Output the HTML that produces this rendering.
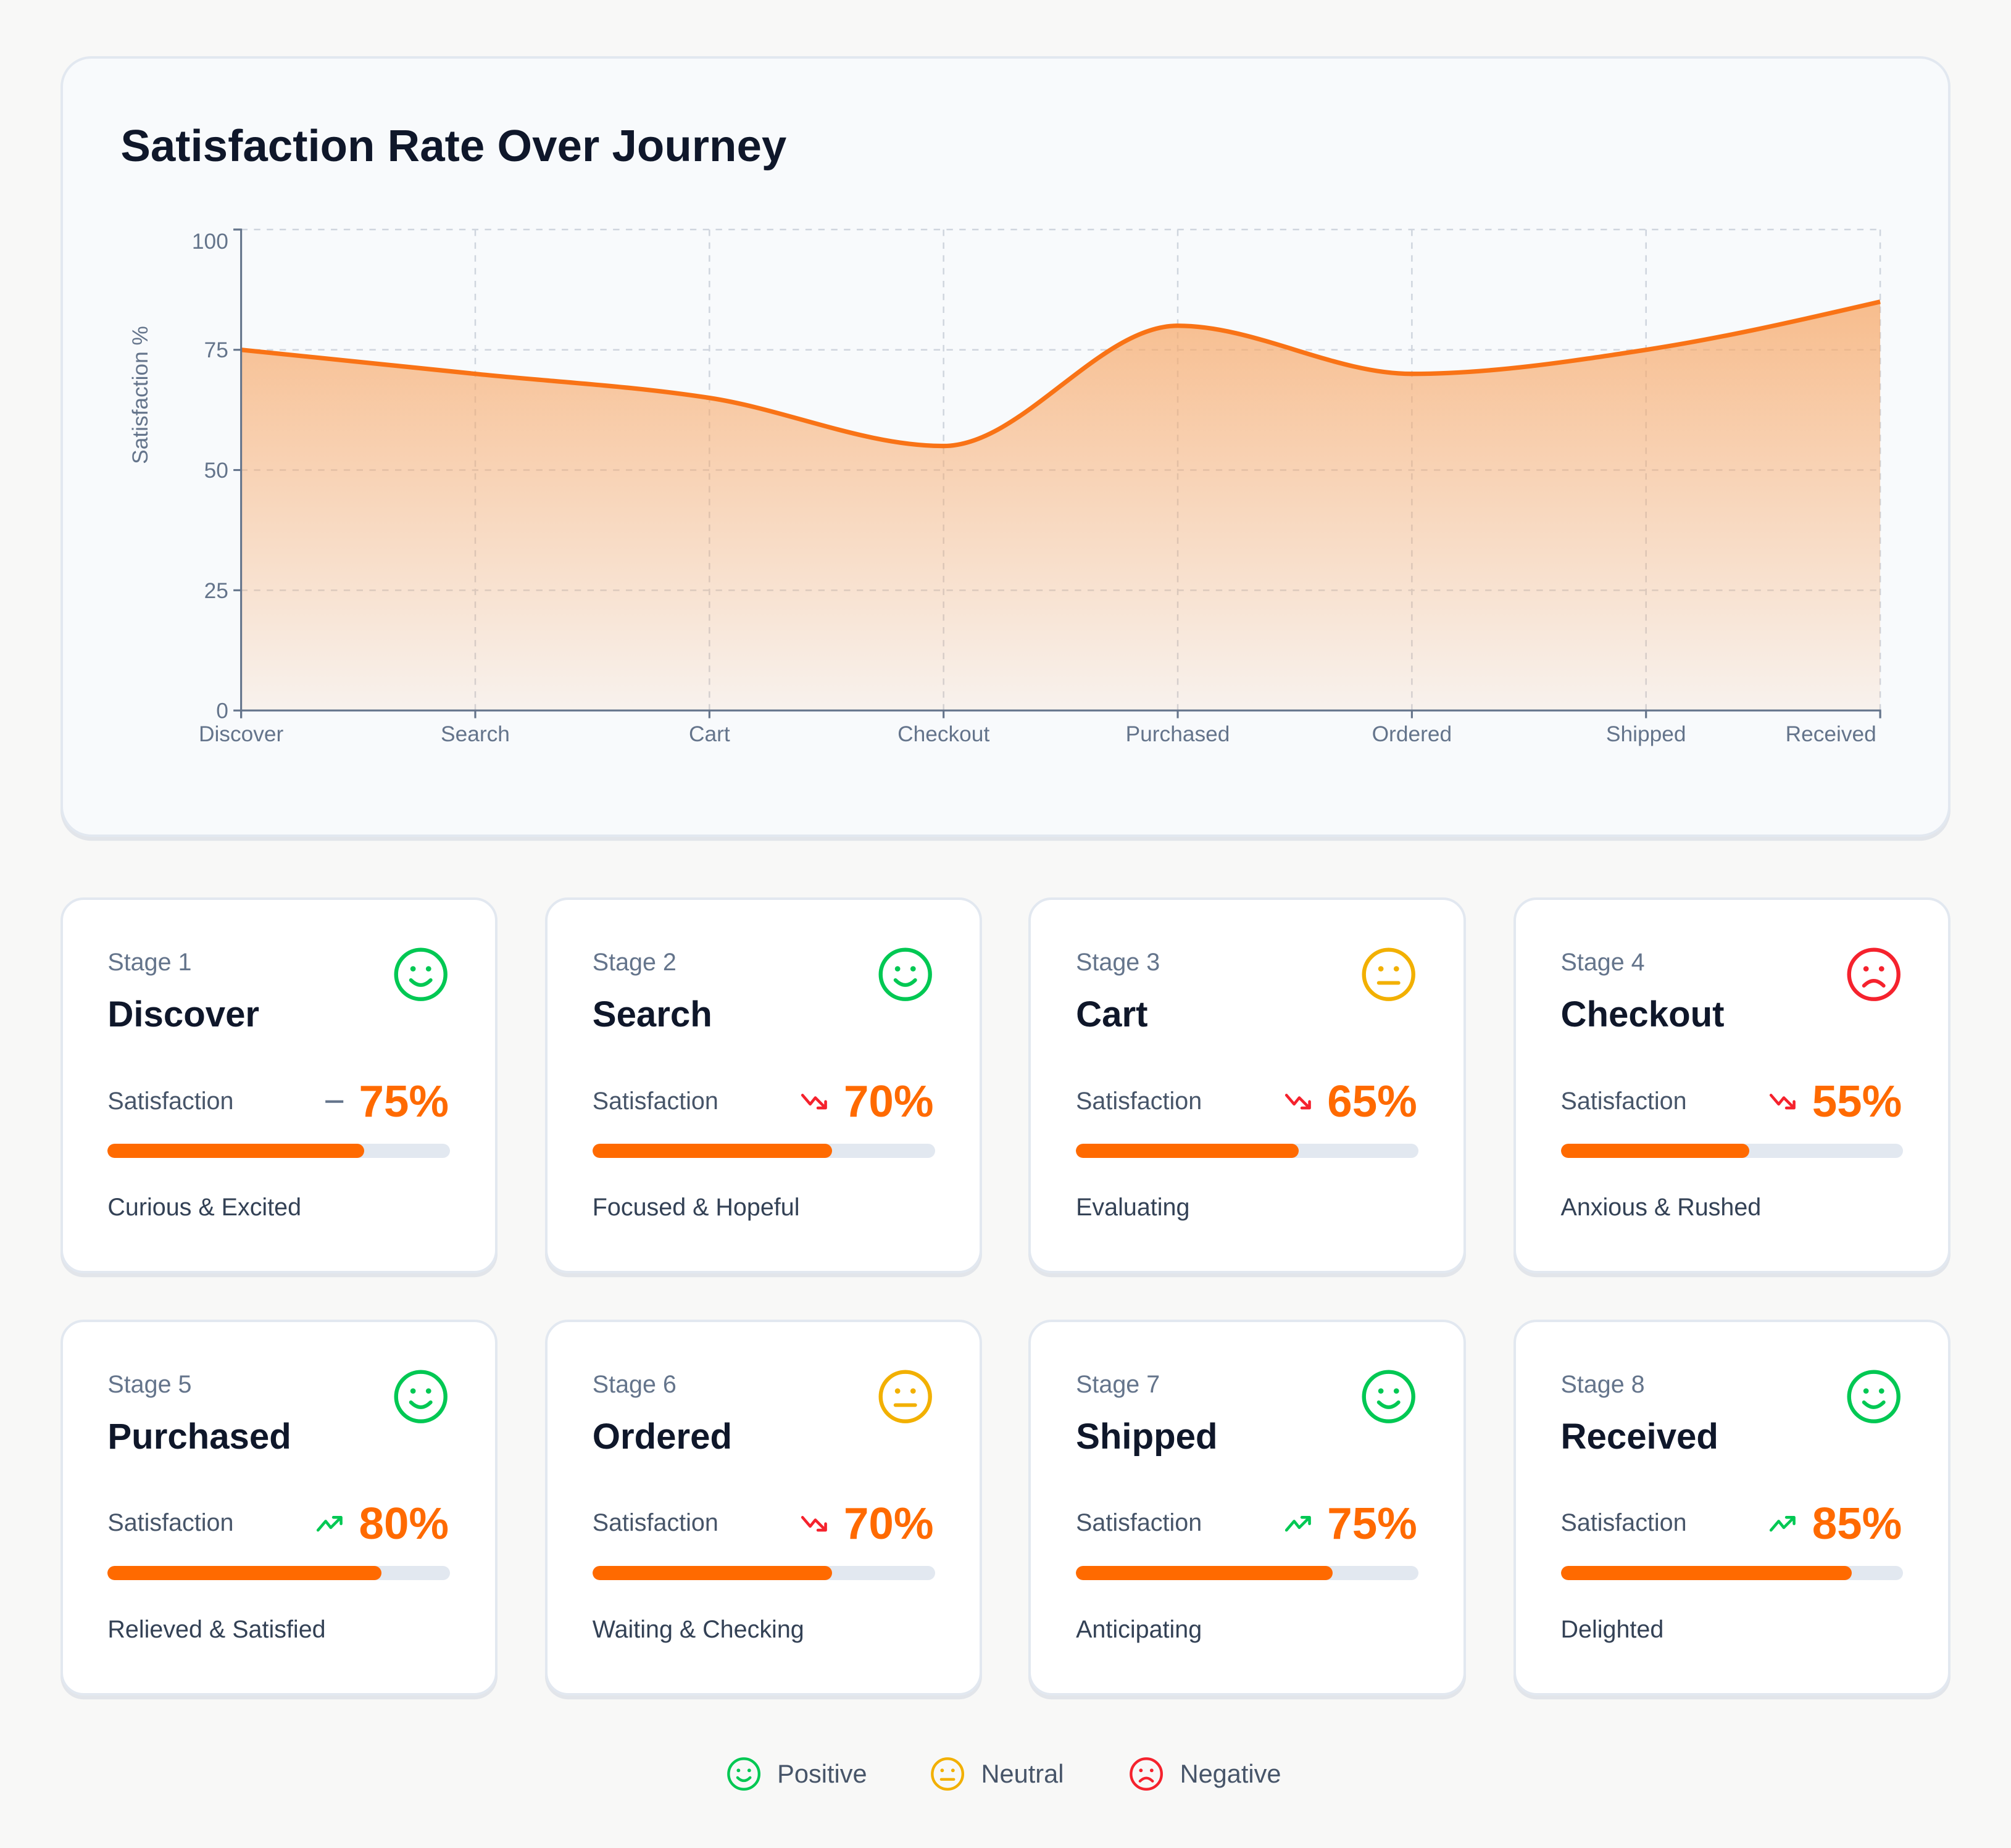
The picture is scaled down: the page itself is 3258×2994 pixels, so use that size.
<!DOCTYPE html>
<html><head><meta charset="utf-8">
<style>
html,body{margin:0;padding:0;background:#f8f8f7;}
body{width:3258px;height:2994px;overflow:hidden;font-family:"Liberation Sans",sans-serif;}
#root{zoom:2.07781;width:1568px;height:1441px;position:relative;}
.panel{position:absolute;left:47px;top:44px;width:1470px;height:605px;background:#f8fafc;border:2px solid #e2e8f0;border-radius:24px;box-shadow:0 3px 0 #e2e5ea;}
.title{position:absolute;left:94px;top:94px;font-size:35px;font-weight:bold;color:#0f172a;margin:0;}
.card{position:absolute;width:337px;height:289px;background:#fff;border:2px solid #e2e8f0;border-radius:18px;box-shadow:0 3px 0 #e2e5ea;}
.stage{position:absolute;left:35px;top:38px;font-size:19px;color:#64748b;}
.name{position:absolute;left:35px;top:73px;font-size:28px;font-weight:bold;color:#0f172a;}
.satl{position:absolute;left:35px;top:146px;font-size:19px;color:#475569;}
.pct{position:absolute;right:36px;top:137px;font-size:35px;font-weight:bold;color:#ff6a00;}
.trend{position:absolute;top:148px;}
.bar{position:absolute;left:35px;top:190px;width:267px;height:11px;border-radius:6px;background:#e2e8f0;overflow:hidden;}
.fill{height:100%;background:#ff6a00;border-radius:6px;}
.mood{position:absolute;left:35px;top:229px;font-size:19px;color:#334155;}
.face{position:absolute;left:257px;top:36px;}
.legend{position:absolute;top:1369px;display:flex;align-items:center;font-size:20px;color:#475569;}
</style></head><body>
<div id="root">
<div class="panel"></div>
<h1 class="title">Satisfaction Rate Over Journey</h1>
<svg id="chart" width="1568" height="640" style="position:absolute;left:0;top:0;font-family:'Liberation Sans',sans-serif;">
<defs><linearGradient id="g" x1="0" y1="0" x2="0" y2="1"><stop offset="0" stop-color="#f7a868" stop-opacity="0.75"/><stop offset="1" stop-color="#f7a868" stop-opacity="0.1"/></linearGradient></defs>
</svg>
<div id="cards"></div>
<div class="legend" style="left:566px"><svg width="28" height="28" viewBox="0 0 40 40"><circle cx="20" cy="20" r="17" fill="none" stroke="#00c853" stroke-width="3"/><circle cx="14" cy="16" r="2" fill="#00c853"/><circle cx="26" cy="16" r="2" fill="#00c853"/><path d="M13 24 Q20 31 27 24" fill="none" stroke="#00c853" stroke-width="3" stroke-linecap="round"/></svg><span style="margin-left:12px">Positive</span></div>
<div class="legend" style="left:725px"><svg width="28" height="28" viewBox="0 0 40 40"><circle cx="20" cy="20" r="17" fill="none" stroke="#f2b000" stroke-width="3"/><circle cx="14" cy="16" r="2" fill="#f2b000"/><circle cx="26" cy="16" r="2" fill="#f2b000"/><path d="M13 26 H27" stroke="#f2b000" stroke-width="3" stroke-linecap="round"/></svg><span style="margin-left:12px">Neutral</span></div>
<div class="legend" style="left:880px"><svg width="28" height="28" viewBox="0 0 40 40"><circle cx="20" cy="20" r="17" fill="none" stroke="#f5222d" stroke-width="3"/><circle cx="14" cy="16" r="2" fill="#f5222d"/><circle cx="26" cy="16" r="2" fill="#f5222d"/><path d="M13 28 Q20 21 27 28" fill="none" stroke="#f5222d" stroke-width="3" stroke-linecap="round"/></svg><span style="margin-left:12px">Negative</span></div>
</div>
<script>
const categories=["Discover","Search","Cart","Checkout","Purchased","Ordered","Shipped","Received"];
const values=[75,70,65,55,80,70,75,85];
const yTicks=[0,25,50,75,100];
const moods=["Curious & Excited","Focused & Hopeful","Evaluating","Anxious & Rushed","Relieved & Satisfied","Waiting & Checking","Anticipating","Delighted"];
const sentiments=["positive","positive","neutral","negative","positive","neutral","positive","positive"];

const NS="http://www.w3.org/2000/svg";
const svg=document.getElementById('chart');
const X0=188,X1=1466,Y0=554,Y1=179;
const x=i=>X0+(X1-X0)*i/(categories.length-1);
const y=v=>Y0-(Y0-Y1)*v/100;
function mk(t,a){const e=document.createElementNS(NS,t);for(const k in a)e.setAttribute(k,a[k]);svg.appendChild(e);return e;}
yTicks.forEach(t=>{if(t>0){const l=mk('line',{x1:X0,x2:X1,y1:y(t),y2:y(t),stroke:'#cfd5de','stroke-dasharray':'5 5','stroke-width':1.2});}});
categories.forEach((c,i)=>{if(i>0){const l=mk('line',{x1:x(i),x2:x(i),y1:Y1,y2:Y0,stroke:'#cfd5de','stroke-dasharray':'5 5','stroke-width':1.2});}});
const pts=values.map((v,i)=>[x(i),y(v)]);
function mono(p){const n=p.length,d=[],m=[];for(let i=0;i<n-1;i++)d.push((p[i+1][1]-p[i][1])/(p[i+1][0]-p[i][0]));
m[0]=d[0];m[n-1]=d[n-2];for(let i=1;i<n-1;i++){m[i]=(d[i-1]*d[i]<=0)?0:(()=>{const h0=p[i][0]-p[i-1][0],h1=p[i+1][0]-p[i][0];const s=(d[i-1]*h1+d[i]*h0)/(h0+h1);return (Math.sign(d[i-1])+Math.sign(d[i]))*Math.min(Math.abs(d[i-1]),Math.abs(d[i]),0.5*Math.abs(s));})();}
m[0]=(3*d[0]-m[1])/2;m[n-1]=(3*d[n-2]-m[n-2])/2;
let s=`M${p[0][0]},${p[0][1]}`;for(let i=0;i<n-1;i++){const h=(p[i+1][0]-p[i][0])/3;s+=`C${p[i][0]+h},${p[i][1]+h*m[i]} ${p[i+1][0]-h},${p[i+1][1]-h*m[i+1]} ${p[i+1][0]},${p[i+1][1]}`;}return s;}
const line=mono(pts);
const area=mk('path',{d:line+`L${X1},${Y0}L${X0},${Y0}Z`,fill:'url(#g)'});

const ln=mk('path',{d:line,fill:'none',stroke:'#f97316','stroke-width':3.5});

const ya=mk('path',{d:`M${X0-6},${Y1}H${X0}V${Y0}`,fill:'none',stroke:'#64748b','stroke-width':1.5});

const xa=mk('path',{d:`M${X0},${Y0+6}V${Y0}H${X1}V${Y0+6}`,fill:'none',stroke:'#64748b','stroke-width':1.5});

yTicks.forEach(t=>{mk('line',{x1:X0-6,x2:X0,y1:y(t),y2:y(t),stroke:'#64748b','stroke-width':1.5});
const tx=mk('text',{x:X0-10,y:y(t)+(t==100?15:6),'text-anchor':'end','font-size':17,fill:'#64748b'});tx.textContent=t;
});
categories.forEach((c,i)=>{mk('line',{x1:x(i),x2:x(i),y1:Y0,y2:Y0+6,stroke:'#64748b','stroke-width':1.5});
const anchor=i==categories.length-1?'end':'middle';
const tx=mk('text',{x:i==categories.length-1?x(i)-3:x(i),y:Y0+24,'text-anchor':anchor,'font-size':17,fill:'#64748b'});tx.textContent=c;
});
const yt=mk('text',{transform:`translate(115,308) rotate(-90)`,'text-anchor':'middle','font-size':17,fill:'#64748b'});yt.textContent='Satisfaction %';


const colors={positive:'#00c853',neutral:'#f2b000',negative:'#f5222d'};
function face(s){const c=colors[s];let mouth=s=='positive'?'<path d="M13 24 Q20 31 27 24" fill="none" stroke="'+c+'" stroke-width="2.6" stroke-linecap="round"/>':s=='neutral'?'<path d="M13 26 H27" stroke="'+c+'" stroke-width="2.6" stroke-linecap="round"/>':'<path d="M13 28 Q20 21 27 28" fill="none" stroke="'+c+'" stroke-width="2.6" stroke-linecap="round"/>';
return `<svg width="44" height="44" viewBox="0 0 40 40"><circle cx="20" cy="20" r="17.5" fill="none" stroke="${c}" stroke-width="2.8"/><circle cx="14.5" cy="16" r="1.9" fill="${c}"/><circle cx="25.5" cy="16" r="1.9" fill="${c}"/>${mouth}</svg>`;}
function trend(i){if(i==0)return '<svg width="18" height="18"><path d="M2 9H16" stroke="#64748b" stroke-width="2"/></svg>';
if(values[i]<values[i-1])return '<svg width="24" height="18" viewBox="0 0 24 18"><path d="M2 4 L8 11 L12 6 L20 14 M14 14 H20 V9" fill="none" stroke="#f5222d" stroke-width="2.2" stroke-linecap="round" stroke-linejoin="round"/></svg>';
return '<svg width="24" height="18" viewBox="0 0 24 18"><path d="M2 14 L8 7 L12 12 L20 4 M14 4 H20 V9" fill="none" stroke="#00c853" stroke-width="2.2" stroke-linecap="round" stroke-linejoin="round"/></svg>';}
const lefts=[47,425,802,1180],tops=[700,1029];
const wrap=document.getElementById('cards');
categories.forEach((c,i)=>{const d=document.createElement('div');d.className='card';
d.style.left=lefts[i%4]+'px';d.style.top=tops[Math.floor(i/4)]+'px';


const pctText=values[i]+'%';
d.innerHTML=`<div class="stage">Stage ${i+1}</div>
<div class="name">${c}</div>
<div class="face">${face(sentiments[i])}</div>
<div class="satl">Satisfaction</div>
<div class="trend" style="right:${36+74+6}px">${trend(i)}</div>
<div class="pct">${pctText}</div>
<div class="bar"><div class="fill" style="width:${values[i]}%"></div></div>
<div class="mood">${moods[i]}</div>`;
wrap.appendChild(d);});
</script>
</body></html>
